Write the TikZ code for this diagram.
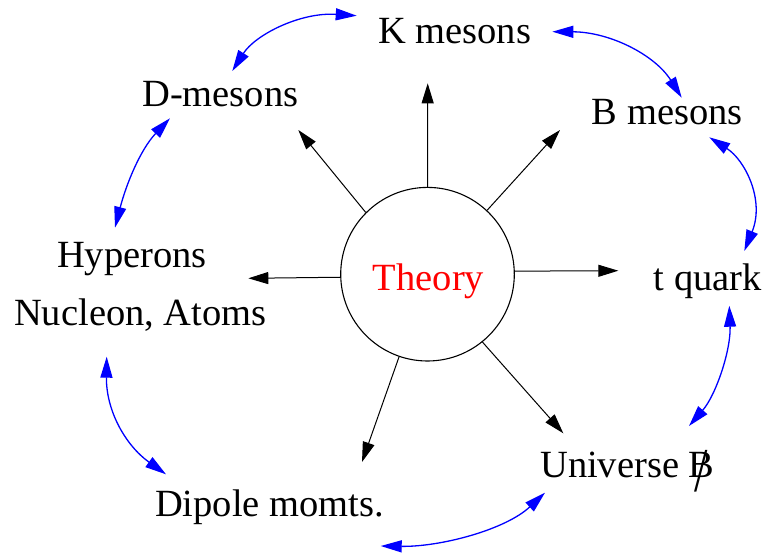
\documentclass[tikz,border=0pt]{standalone}
\usepackage{fontspec}
\setmainfont{Liberation Serif}
\usetikzlibrary{arrows.meta}
\newcommand{\slashB}{\ooalign{B\cr\hidewidth\raisebox{-14pt}{\scalebox{1.25}[1.62]{/}}\hidewidth}}
\begin{document}
\begin{tikzpicture}[x=1pt,y=-1pt,
  lbl/.style={anchor=base west, inner sep=0pt, font=\fontsize{38.5}{46}\selectfont},
  ray/.style={draw=black, line width=1pt, -{Triangle[length=20pt,width=12pt]}},
  link/.style={draw=blue, line width=1.3pt, {Triangle[length=21pt,width=12pt]}-{Triangle[length=21pt,width=12pt]}}]
\useasboundingbox (0,0) rectangle (767,553);

% centre
\node[circle, draw, line width=1.1pt, minimum size=173.6pt, inner sep=0pt] (theory) at (427.5,274.2) {};
\node[lbl, anchor=base, text=red] (theorytext) at (428.5,290) {Theory};

% labels
\node[lbl] (kmes) at (378,43.5) {K mesons};
\node[lbl] (dmes) at (142,106.7) {D-mesons};
\node[lbl] (bmes) at (591.7,125) {B mesons};
\node[lbl] (hyp) at (57,267) {Hyperons};
\node[lbl] (nuc) at (14,325) {Nucleon, Atoms};
\node[lbl] (tq) at (653.7,290) {t quark};
\node[lbl] (univ) at (540,477.3) {Universe \slashB};
\node[lbl] (dip) at (155,516.7) {Dipole momts.};

% ray tips
\coordinate (tU) at (427.7,83.3);
\coordinate (tUL) at (298.3,130);
\coordinate (tUR) at (560,130);
\coordinate (tL) at (248.3,278.3);
\coordinate (tR) at (618.3,270.7);
\coordinate (tLL) at (362,462);
\coordinate (tLR) at (563.3,433.3);

\draw[ray] (theory.90) -- (tU);
\draw[ray] (theory.135.8) -- (tUL);
\draw[ray] (theory.47.3) -- (tUR);
\draw[ray] (theory.182.7) -- (tL);
\draw[ray] (theory.2.3) -- (tR);
\draw[ray] (theory.251.3) -- (tLL);
\draw[ray] (theory.309.2) -- (tLR);

% link ends
\coordinate (kD) at (356.7,15.7);
\coordinate (dK) at (232.3,71);
\coordinate (kB) at (552.3,31.7);
\coordinate (bK) at (681.7,97.7);
\coordinate (bT) at (709.3,137.3);
\coordinate (tB) at (744.3,251);
\coordinate (tU2) at (729.3,305.7);
\coordinate (uT) at (689,426);
\coordinate (uD) at (545,492.7);
\coordinate (dU) at (380.7,546);
\coordinate (dH) at (166,474.3);
\coordinate (hD) at (106.7,356.7);
\coordinate (hDm) at (115,227.7);
\coordinate (dmH) at (170,118.3);

\draw[link] (dK) .. controls (255,35) and (300,12) .. (kD);
\draw[link] (kB) .. controls (610,32) and (655,55) .. (bK);
\draw[link] (bT) .. controls (745,160) and (765,200) .. (tB);
\draw[link] (tU2) .. controls (731,350) and (716,395) .. (uT);
\draw[link] (dU) .. controls (440,547) and (505,530) .. (uD);
\draw[link] (hD) .. controls (106,410) and (125,445) .. (dH);
\draw[link] (hDm) .. controls (126,185) and (140,150) .. (dmH);
\end{tikzpicture}
\end{document}
